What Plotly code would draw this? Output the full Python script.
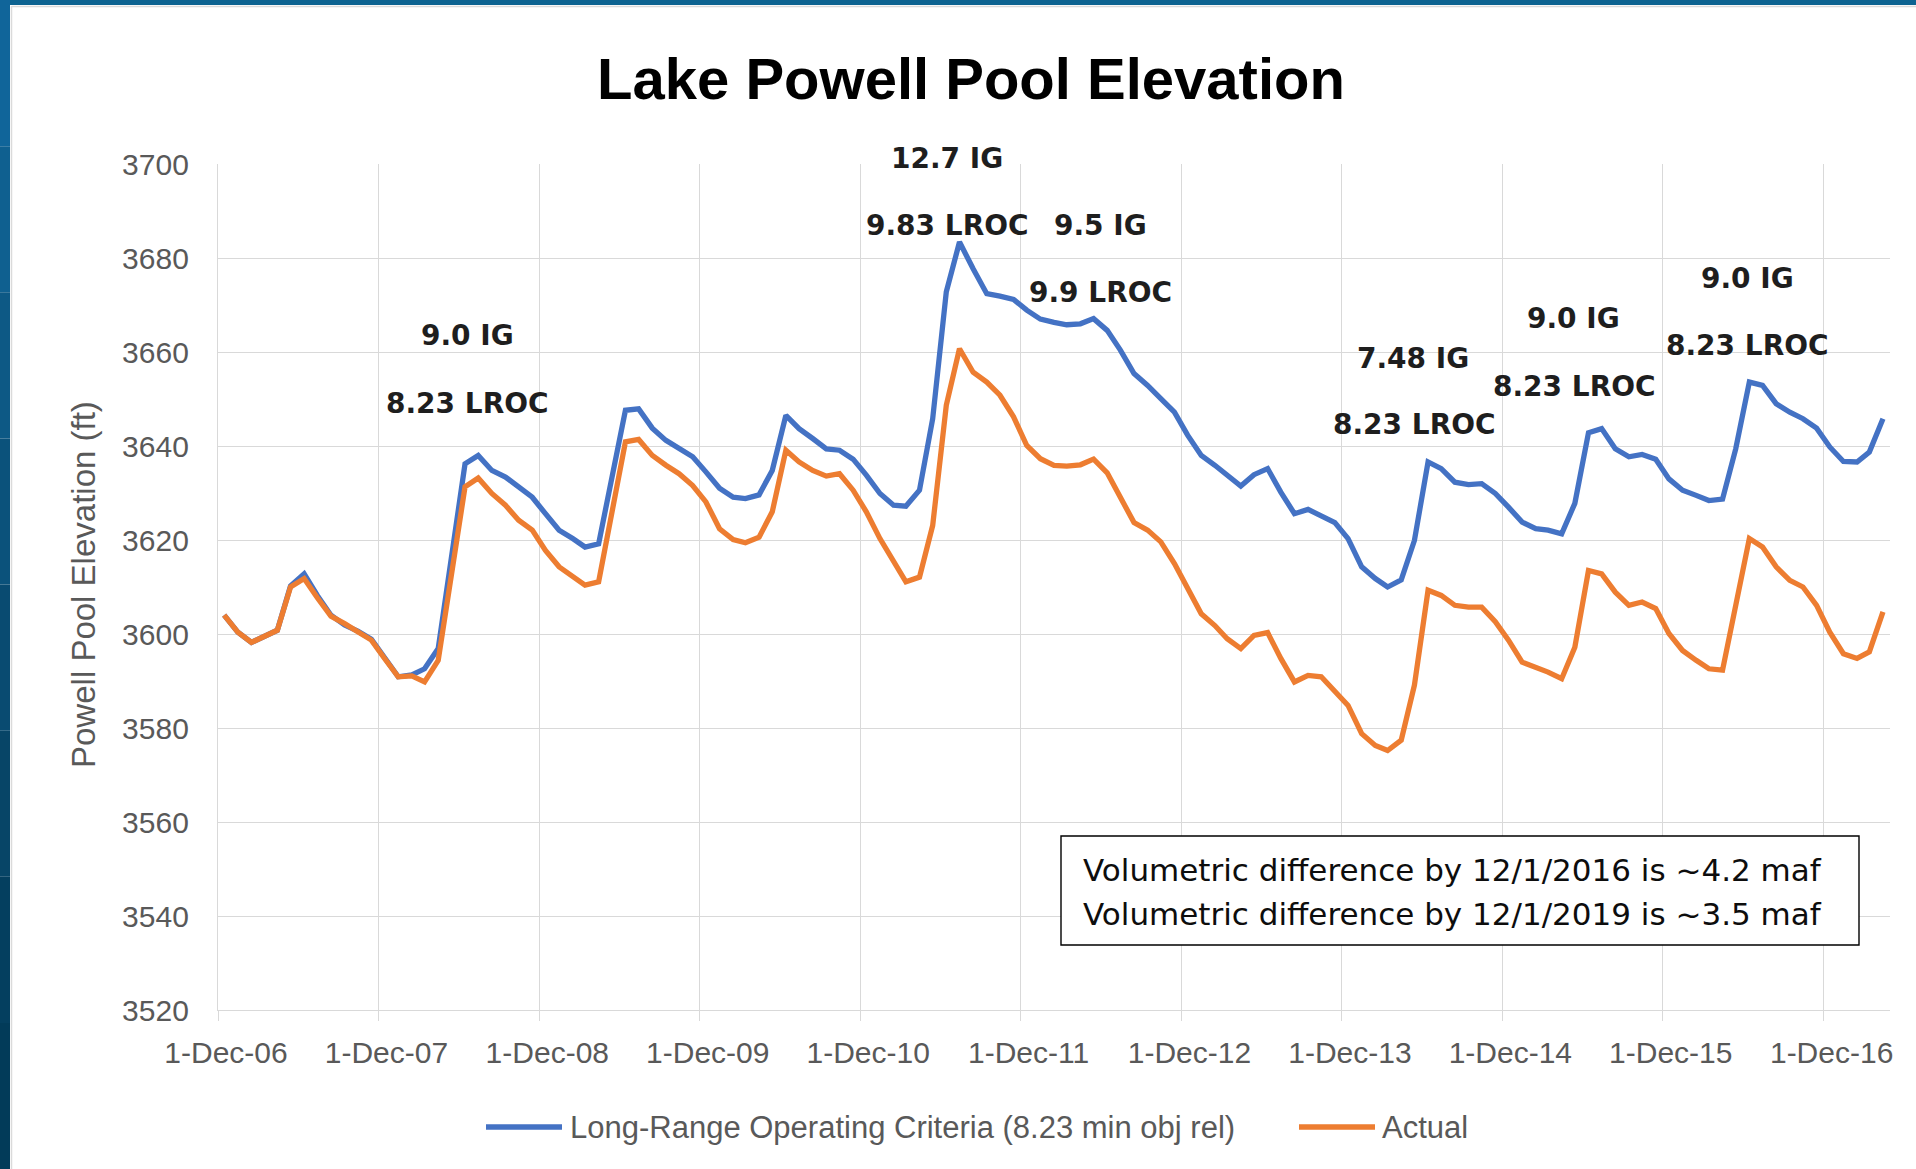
import pandas as pd
import plotly.graph_objects as go

# ---------------- data ----------------
tick_dates = ["2006-12-01", "2007-12-01", "2008-12-01", "2009-12-01", "2010-12-01",
              "2011-12-01", "2012-12-01", "2013-12-01", "2014-12-01", "2015-12-01", "2016-12-01"]
tick_labels = ["1-Dec-06", "1-Dec-07", "1-Dec-08", "1-Dec-09", "1-Dec-10", "1-Dec-11",
               "1-Dec-12", "1-Dec-13", "1-Dec-14", "1-Dec-15", "1-Dec-16"]
y_ticks = [3520, 3540, 3560, 3580, 3600, 3620, 3640, 3660, 3680, 3700]

# monthly observations, Dec 2006 .. Apr 2017
months = pd.date_range("2006-12-15", periods=125, freq=pd.DateOffset(months=1))

lroc = [3604.0, 3600.4, 3598.2, 3599.4, 3600.8, 3610.2, 3612.8, 3608.2, 3604.0, 3601.9,
        3600.6, 3598.9, 3594.8, 3590.9, 3591.3, 3592.6, 3596.9, 3616.6, 3636.2, 3638.0,
        3634.8, 3633.4, 3631.3, 3629.1, 3625.6, 3622.1, 3620.3, 3618.5, 3619.2, 3633.4,
        3647.6, 3647.9, 3643.8, 3641.2, 3639.4, 3637.7, 3634.5, 3631.0, 3629.1, 3628.8,
        3629.6, 3634.8, 3646.5, 3643.7, 3641.6, 3639.4, 3639.1, 3637.2, 3633.8, 3629.9,
        3627.4, 3627.2, 3630.6, 3645.8, 3672.8, 3683.4, 3677.7, 3672.4, 3671.9, 3671.2,
        3668.9, 3667.0, 3666.3, 3665.8, 3666.0, 3667.1, 3664.6, 3660.4, 3655.4, 3652.9,
        3650.1, 3647.2, 3642.3, 3638.0, 3635.9, 3633.8, 3631.5, 3633.9, 3635.2, 3630.2,
        3625.6, 3626.5, 3625.2, 3623.7, 3620.3, 3614.3, 3611.8, 3610.0, 3611.5, 3619.9,
        3636.6, 3635.2, 3632.3, 3631.8, 3632.0, 3629.9, 3627.0, 3623.8, 3622.4, 3622.1,
        3621.3, 3627.8, 3642.8, 3643.7, 3639.4, 3637.7, 3638.2, 3637.2, 3633.0, 3630.6,
        3629.5, 3628.4, 3628.7, 3639.4, 3653.6, 3652.9, 3649.0, 3647.2, 3645.8, 3643.8,
        3639.8, 3636.7, 3636.6, 3638.7, 3645.8]

actual = [3604.0, 3600.4, 3598.2, 3599.4, 3600.8, 3610.0, 3611.8, 3607.7, 3603.8, 3602.2,
          3600.6, 3598.7, 3594.8, 3590.9, 3591.1, 3589.8, 3594.4, 3612.8, 3631.3, 3633.2,
          3629.9, 3627.4, 3624.2, 3622.1, 3617.8, 3614.3, 3612.1, 3610.4, 3611.1, 3626.0,
          3640.9, 3641.4, 3638.0, 3635.9, 3634.1, 3631.6, 3628.1, 3622.4, 3620.1, 3619.4,
          3620.6, 3626.0, 3639.1, 3636.6, 3634.8, 3633.6, 3634.1, 3630.6, 3626.0, 3620.3,
          3615.3, 3611.1, 3612.1, 3623.1, 3648.7, 3660.7, 3655.7, 3653.6, 3650.8, 3646.2,
          3640.1, 3637.3, 3635.9, 3635.7, 3636.0, 3637.2, 3634.3, 3628.8, 3623.7, 3622.1,
          3619.6, 3615.0, 3609.6, 3604.3, 3601.8, 3599.0, 3596.9, 3599.7, 3600.3, 3594.8,
          3589.8, 3591.2, 3590.9, 3587.7, 3584.8, 3578.8, 3576.3, 3575.2, 3577.4, 3589.1,
          3609.3, 3608.2, 3606.1, 3605.7, 3605.7, 3602.6, 3598.7, 3594.0, 3593.0, 3591.9,
          3590.5, 3597.2, 3613.5, 3612.8, 3608.9, 3606.1, 3606.8, 3605.4, 3600.1, 3596.5,
          3594.4, 3592.6, 3592.3, 3606.5, 3620.3, 3618.5, 3614.3, 3611.4, 3610.0, 3606.1,
          3600.4, 3595.8, 3594.8, 3596.2, 3604.7]

series_names = ["Long-Range Operating Criteria (8.23 min obj rel)", "Actual"]
release_labels = ["12.7 IG", "9.83 LROC", "9.5 IG", "9.9 LROC", "9.0 IG", "8.23 LROC",
                  "7.48 IG", "8.23 LROC", "9.0 IG", "8.23 LROC", "9.0 IG", "8.23 LROC"]
note_lines = ["Volumetric difference by 12/1/2016 is ~4.2 maf",
              "Volumetric difference by 12/1/2019 is ~3.5 maf"]

# ---------------- layout geometry (px) ----------------
W, H = 1916, 1169
L, R, T, B = 218, 1890, 164, 1010
PW, PH = R - L, B - T


def px(x):
    return (x - L) / PW


def py(y):
    return (B - y) / PH


BLUE = "#4472C4"
ORANGE = "#ED7D31"
GRID = "#D9D9D9"
GRAYTXT = "#595959"
SANS = "Liberation Sans, Arial, sans-serif"

fig = go.Figure()
fig.add_trace(go.Scatter(x=months, y=lroc, mode="lines", name=series_names[0],
                         line=dict(color=BLUE, width=5.3), showlegend=False))
fig.add_trace(go.Scatter(x=months, y=actual, mode="lines", name=series_names[1],
                         line=dict(color=ORANGE, width=5.3), showlegend=False))

shapes = []
# slide frame
shapes.append(dict(type="rect", xref="paper", yref="paper", x0=px(0), x1=px(W), y0=py(5), y1=py(0),
                   fillcolor="#0D6391", line=dict(width=0), layer="above"))
frame_cols = ["#10659A", "#0F6090", "#0D5985", "#0B527B", "#094B71", "#074567", "#043F5F", "#023B59"]
n = len(frame_cols)
for i, c in enumerate(frame_cols):
    shapes.append(dict(type="rect", xref="paper", yref="paper", x0=px(0), x1=px(10),
                       y0=py(H * (i + 1) / n), y1=py(H * i / n), fillcolor=c, line=dict(width=0),
                       layer="above"))
shapes.append(dict(type="line", xref="paper", yref="paper", x0=px(11.5), x1=px(11.5), y0=py(H), y1=py(6),
                   line=dict(color="#DADADA", width=1.5)))
shapes.append(dict(type="line", xref="paper", yref="paper", x0=px(11.5), x1=px(W), y0=py(6.5), y1=py(6.5),
                   line=dict(color="#DADADA", width=1.5)))
# note box
shapes.append(dict(type="rect", xref="paper", yref="paper", x0=px(1061), x1=px(1859), y0=py(945), y1=py(836),
                   fillcolor="white", line=dict(color="#000000", width=1.4), layer="above"))
# legend keys
shapes.append(dict(type="line", xref="paper", yref="paper", x0=px(486), x1=px(562), y0=py(1127), y1=py(1127),
                   line=dict(color=BLUE, width=5.5)))
shapes.append(dict(type="line", xref="paper", yref="paper", x0=px(1299), x1=px(1375), y0=py(1127), y1=py(1127),
                   line=dict(color=ORANGE, width=5.5)))

annotations = []
label_pos = [(947, 158), (947, 225), (1100, 225), (1100, 292), (467, 335), (467, 403),
             (1413, 358), (1414, 424), (1573, 318), (1574, 386), (1747, 278), (1747, 345)]
for txt, (x, y) in zip(release_labels, label_pos):
    annotations.append(dict(text="<b>%s</b>" % txt, xref="paper", yref="paper", x=px(x), y=py(y),
                            xanchor="center", yanchor="middle", showarrow=False,
                            font=dict(family="DejaVu Sans, sans-serif", size=28, color="#1E1E1E")))
for txt, y in zip(note_lines, [870, 914]):
    annotations.append(dict(text=txt, xref="paper", yref="paper", x=px(1081), y=py(y),
                            xanchor="left", yanchor="middle", showarrow=False,
                            font=dict(family="DejaVu Sans, sans-serif", size=31, color="#0D0D0D")))
annotations.append(dict(text="Powell Pool Elevation (ft)", xref="paper", yref="paper", x=px(83), y=py(585),
                        xanchor="center", yanchor="middle", textangle=-90, showarrow=False,
                        font=dict(family=SANS, size=33, color=GRAYTXT)))
annotations.append(dict(text=series_names[0], xref="paper", yref="paper", x=px(568), y=py(1127),
                        xanchor="left", yanchor="middle", showarrow=False,
                        font=dict(family=SANS, size=31, color=GRAYTXT)))
annotations.append(dict(text=series_names[1], xref="paper", yref="paper", x=px(1380), y=py(1127),
                        xanchor="left", yanchor="middle", showarrow=False,
                        font=dict(family=SANS, size=31, color=GRAYTXT)))

fig.update_layout(
    width=W, height=H,
    margin=dict(l=L, r=W - R, t=T, b=H - B, autoexpand=False),
    paper_bgcolor="white", plot_bgcolor="white",
    title=dict(text="<b>Lake Powell Pool Elevation</b>", xref="container", yref="container",
               x=971 / W, y=1 - 79 / H, xanchor="center", yanchor="middle",
               font=dict(family=SANS, size=58, color="#000000")),
    xaxis=dict(type="date", range=["2006-12-01", "2017-05-01"], tickvals=tick_dates, ticktext=tick_labels,
               showgrid=True, gridcolor=GRID, gridwidth=1.3, ticks="outside", ticklen=10,
               tickcolor=GRID, tickwidth=1.3, showline=True, linecolor=GRID, linewidth=1.3,
               tickfont=dict(family=SANS, size=30, color=GRAYTXT), ticklabelshift=8,
               ticklabelstandoff=6, zeroline=False),
    yaxis=dict(range=[3520, 3700], tickvals=y_ticks, showgrid=True, gridcolor=GRID, gridwidth=1.3,
               showline=True, linecolor=GRID, linewidth=1.3, ticks="",
               tickfont=dict(family=SANS, size=30, color=GRAYTXT), ticklabelstandoff=22, zeroline=False),
    shapes=shapes,
    annotations=annotations,
    showlegend=False,
)

fig.write_html("out.html", include_plotlyjs=True, full_html=True, config={"displayModeBar": False},
               post_script="document.body.style.margin='0';document.body.style.overflow='hidden';")
